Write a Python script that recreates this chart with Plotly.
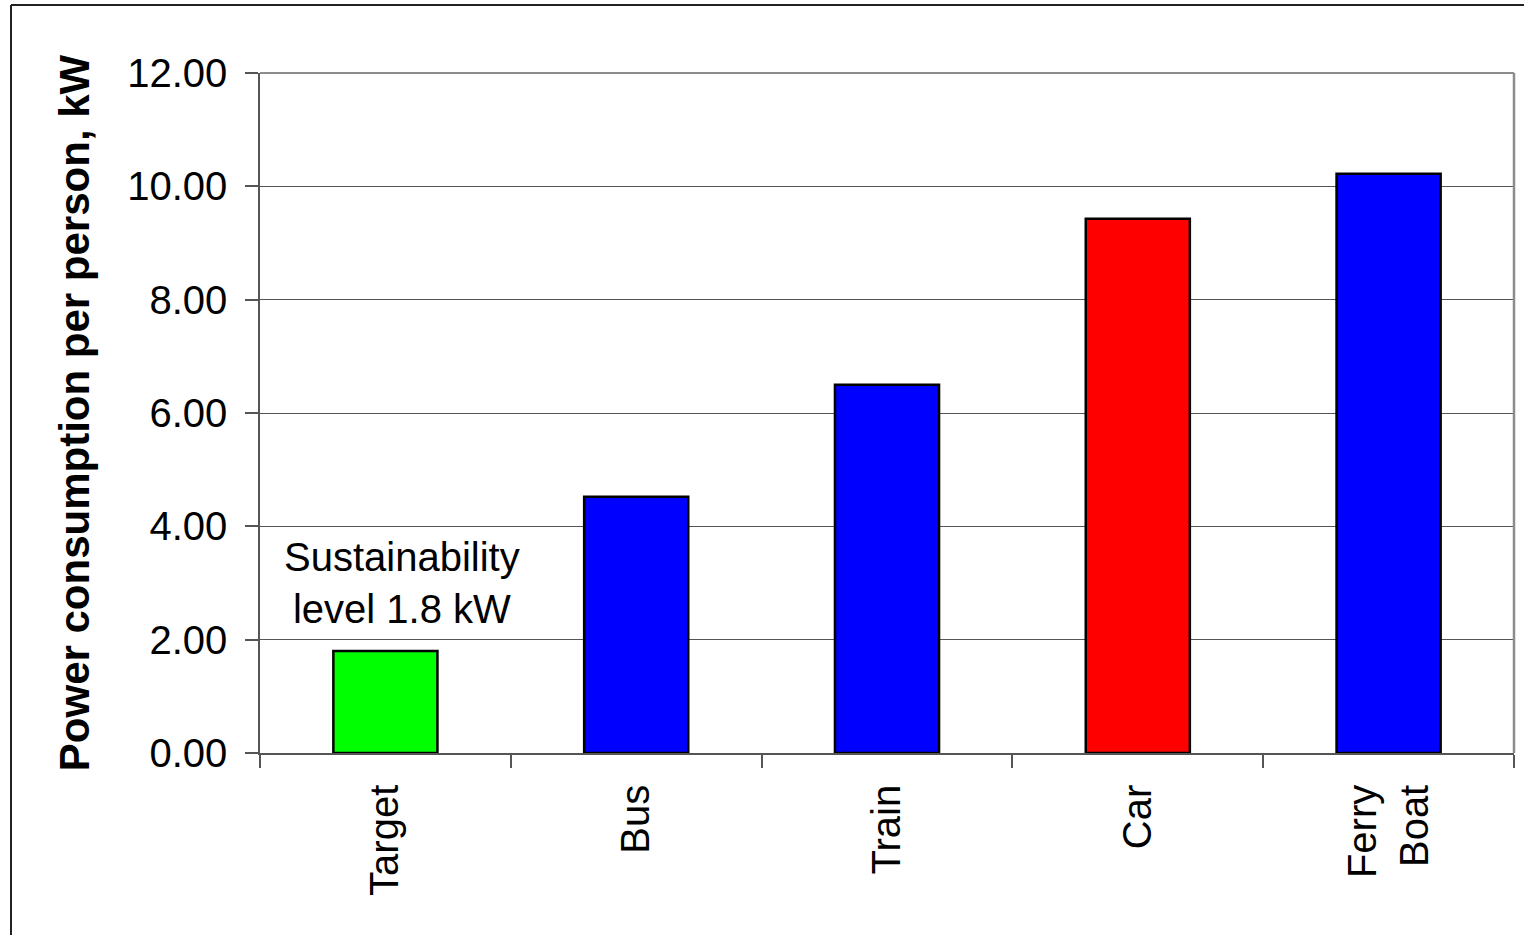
import plotly.graph_objects as go

categories = ["Target", "Bus", "Train", "Car", "Ferry<br>Boat"]
values = [1.8, 4.52, 6.5, 9.43, 10.22]
bar_colors = ["#00FF00", "#0000FF", "#0000FF", "#FF0000", "#0000FF"]
y_ticks = [0, 2, 4, 6, 8, 10, 12]
y_title = "Power consumption per person, kW"
note_text = "Sustainability<br>level 1.8 kW"

FONT = "Liberation Sans, Arial, sans-serif"

fig = go.Figure()
fig.add_trace(go.Bar(
    x=categories, y=values,
    marker=dict(color=bar_colors, line=dict(color="black", width=2.5)),
    showlegend=False, hoverinfo="x+y",
))

fig.add_annotation(
    x=categories[0], y=3.0, xref="x", yref="y",
    text=note_text, showarrow=False, xshift=17,
    font=dict(family=FONT, size=40, color="black"),
    align="center",
)

# outer frame (top and left) and plot frame top/right
shapes = [
    dict(type="line", xref="paper", yref="paper", x0=(11-260)/1254, x1=(1530-260)/1254,
         y0=(753-5)/680, y1=(753-5)/680, line=dict(color="#222", width=2)),
    dict(type="line", xref="paper", yref="paper", x0=(11-260)/1254, x1=(11-260)/1254,
         y0=(753-5)/680, y1=(753-940)/680, line=dict(color="#222", width=2)),
    dict(type="line", xref="paper", yref="paper", x0=0, x1=1, y0=1, y1=1,
         line=dict(color="#8c8c8c", width=2)),
    dict(type="line", xref="paper", yref="paper", x0=1, x1=1, y0=0, y1=1,
         line=dict(color="#8c8c8c", width=2.5)),
]

fig.update_layout(
    width=1524, height=935,
    margin=dict(l=260, r=10, t=73, b=182),
    paper_bgcolor="white", plot_bgcolor="white",
    bargap=0.585,
    shapes=shapes,
    font=dict(family=FONT, size=40, color="black"),
    xaxis=dict(
        type="category", tickson="boundaries", ticks="outside", ticklen=13,
        tickcolor="#555", tickwidth=1.5, tickangle=-90,
        showline=True, linecolor="#555", linewidth=1.5,
        showgrid=False, ticklabelstandoff=14,
        tickfont=dict(family=FONT, size=40, color="black"),
    ),
    yaxis=dict(
        range=[0, 12], tickvals=y_ticks, tickformat=".2f",
        ticks="outside", ticklen=13, tickcolor="#555", tickwidth=1.5,
        showline=True, linecolor="#555", linewidth=1.5,
        showgrid=True, gridcolor="#555", gridwidth=1,
        zeroline=False, ticklabelstandoff=10,
        tickfont=dict(family=FONT, size=40, color="black"),
        title=dict(text="<b>" + y_title + "</b>", standoff=24,
                   font=dict(family=FONT, size=42, color="black")),
    ),
)

fig.write_html("out.html")
